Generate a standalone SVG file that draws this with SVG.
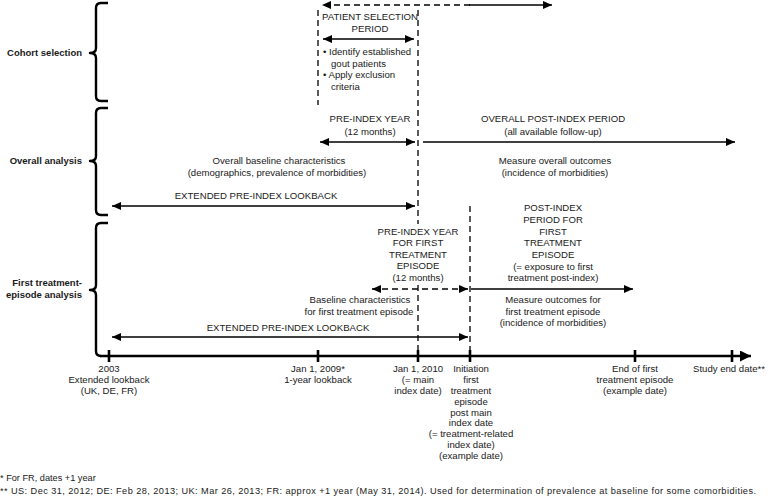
<svg xmlns="http://www.w3.org/2000/svg" width="770" height="499" viewBox="0 0 770 499">
<style>
text{font-family:"Liberation Sans",Arial,sans-serif;font-size:9.6px;fill:#1a1a1a}
.b{font-weight:bold;font-size:9.5px}
.m{text-anchor:middle}
.e{text-anchor:end}
.fn{font-size:9.2px}
.br{fill:none;stroke:#000;stroke-width:2.4;stroke-linejoin:round}
.ar{fill:none;stroke:#000;stroke-width:1.3}
.da{fill:none;stroke:#000;stroke-width:1.3;stroke-dasharray:6,4}
.ax{fill:none;stroke:#000;stroke-width:2.6}
</style>
<defs>
<marker id="ah" viewBox="0 0 10 10" refX="10" refY="5" markerWidth="9" markerHeight="8" markerUnits="userSpaceOnUse" orient="auto-start-reverse" preserveAspectRatio="none"><path d="M0,0 L10,5 L0,10 z" fill="#000"/></marker>
<marker id="axh" viewBox="0 0 10 10" refX="10" refY="5" markerWidth="11" markerHeight="11" markerUnits="userSpaceOnUse" orient="auto" preserveAspectRatio="none"><path d="M0,0 L10,5 L0,10 z" fill="#000"/></marker>
</defs>

<g id="cohort-selection">
<path class="br" d="M108,3 H101 Q96,3 96,8 V48 Q96,53 90,53 Q96,53 96,58 V96 Q96,101 101,101 H108"/>
<text class="b e" x="82" y="56">Cohort selection</text>
</g>
<g id="overall-analysis">
<path class="br" d="M108,108 H101 Q96,108 96,113 V156 Q96,161 90,161 Q96,161 96,166 V210 Q96,215 101,215 H108"/>
<text class="b e" x="82" y="164">Overall analysis</text>
</g>
<g id="first-treatment-episode-analysis">
<path class="br" d="M108,223 H101 Q96,223 96,228 V285 Q96,290 90,290 Q96,290 96,295 V351 Q96,356 101,356"/>
<text class="b e" x="82" y="286">First treatment-</text>
<text class="b e" x="82" y="298">episode analysis</text>
</g>

<g id="timeline-axis">
<path class="ax" d="M100,356 H751" marker-end="url(#axh)"/>
<path class="ax" d="M109,350 V362 M318,350 V362 M418,350 V362 M470,350 V362 M635,350 V362 M732,350 V362"/>
</g>

<g id="connectors">
<path class="da" d="M318,10 V105"/>
<path class="da" d="M418,10 V224"/>
<path class="da" d="M418,285 V356"/>
<path class="da" d="M470,206 V356"/>
<path class="da" d="M470,5 H322" marker-end="url(#ah)"/>
<path class="ar" d="M469,5 H552" marker-end="url(#ah)"/>
<path class="ar" d="M323,39 H414" marker-start="url(#ah)" marker-end="url(#ah)"/>
<path class="ar" d="M320,142 H415" marker-start="url(#ah)" marker-end="url(#ah)"/>
<path class="ar" d="M423,142 H735" marker-end="url(#ah)"/>
<path class="ar" d="M112,206 H415" marker-start="url(#ah)" marker-end="url(#ah)"/>
<path class="da" d="M372,289 H468" marker-start="url(#ah)" marker-end="url(#ah)"/>
<path class="ar" d="M471,289 H633" marker-end="url(#ah)"/>
<path class="ar" d="M112,337 H468" marker-start="url(#ah)" marker-end="url(#ah)"/>
</g>

<g id="patient-selection-period">
<text class="m" x="370" y="20">PATIENT SELECTION</text>
<text class="m" x="370" y="32">PERIOD</text>
<text x="323" y="55">• Identify established</text>
<text x="331" y="67">gout patients</text>
<text x="323" y="78">• Apply exclusion</text>
<text x="331" y="90">criteria</text>
</g>

<g id="pre-index-year">
<text class="m" x="370" y="122">PRE-INDEX YEAR</text>
<text class="m" x="370" y="135">(12 months)</text>
</g>
<g id="overall-post-index-period">
<text class="m" x="553" y="122">OVERALL POST-INDEX PERIOD</text>
<text class="m" x="553" y="135">(all available follow-up)</text>
</g>
<g id="overall-baseline">
<text class="m" x="279" y="164">Overall baseline characteristics</text>
<text class="m" x="277" y="176">(demographics, prevalence of morbidities)</text>
</g>
<g id="overall-outcomes">
<text class="m" x="555" y="164">Measure overall outcomes</text>
<text class="m" x="555" y="176">(incidence of morbidities)</text>
</g>
<g id="extended-lookback-overall">
<text class="m" x="256" y="199">EXTENDED PRE-INDEX LOOKBACK</text>
</g>

<g id="post-index-first-treatment">
<text class="m" x="553" y="211">POST-INDEX</text>
<text class="m" x="553" y="223">PERIOD FOR</text>
<text class="m" x="553" y="235">FIRST</text>
<text class="m" x="553" y="246">TREATMENT</text>
<text class="m" x="553" y="258">EPISODE</text>
<text class="m" x="553" y="270">(= exposure to first</text>
<text class="m" x="553" y="281">treatment post-index)</text>
</g>
<g id="first-treatment-outcomes">
<text class="m" x="553" y="303">Measure outcomes for</text>
<text class="m" x="553" y="315">first treatment episode</text>
<text class="m" x="553" y="326">(incidence of morbidities)</text>
</g>
<g id="pre-index-year-first-treatment">
<text class="m" x="418" y="235">PRE-INDEX YEAR</text>
<text class="m" x="418" y="246">FOR FIRST</text>
<text class="m" x="418" y="258">TREATMENT</text>
<text class="m" x="418" y="269">EPISODE</text>
<text class="m" x="418" y="281">(12 months)</text>
</g>
<g id="first-treatment-baseline">
<text class="m" x="360" y="303">Baseline characteristics</text>
<text class="m" x="359" y="315">for first treatment episode</text>
</g>
<g id="extended-lookback-first">
<text class="m" x="288" y="331">EXTENDED PRE-INDEX LOOKBACK</text>
</g>

<g id="label-2003">
<text class="m" x="109" y="372">2003</text>
<text class="m" x="109" y="383">Extended lookback</text>
<text class="m" x="109" y="394">(UK, DE, FR)</text>
</g>
<g id="label-2009">
<text class="m" x="318" y="372">Jan 1, 2009*</text>
<text class="m" x="318" y="383">1-year lookback</text>
</g>
<g id="label-2010">
<text class="m" x="418" y="372">Jan 1, 2010</text>
<text class="m" x="418" y="383">(= main</text>
<text class="m" x="418" y="394">index date)</text>
</g>
<g id="label-initiation">
<text class="m" x="471" y="372">Initiation</text>
<text class="m" x="471" y="383">first</text>
<text class="m" x="471" y="394">treatment</text>
<text class="m" x="471" y="405">episode</text>
<text class="m" x="471" y="415.5">post main</text>
<text class="m" x="471" y="426">index date</text>
<text class="m" x="471" y="437">(= treatment-related</text>
<text class="m" x="471" y="448">index date)</text>
<text class="m" x="471" y="459">(example date)</text>
</g>
<g id="label-end-first">
<text class="m" x="635" y="372">End of first</text>
<text class="m" x="635" y="383">treatment episode</text>
<text class="m" x="635" y="394">(example date)</text>
</g>
<g id="label-study-end">
<text class="m" x="729" y="372">Study end date**</text>
</g>

<g id="footnotes">
<text class="fn" x="0" y="481">* For FR, dates +1 year</text>
<text class="fn" x="0" y="494" textLength="756" lengthAdjust="spacing">** US: Dec 31, 2012; DE: Feb 28, 2013; UK: Mar 26, 2013; FR: approx +1 year (May 31, 2014). Used for determination of prevalence at baseline for some comorbidities.</text>
</g>
</svg>
